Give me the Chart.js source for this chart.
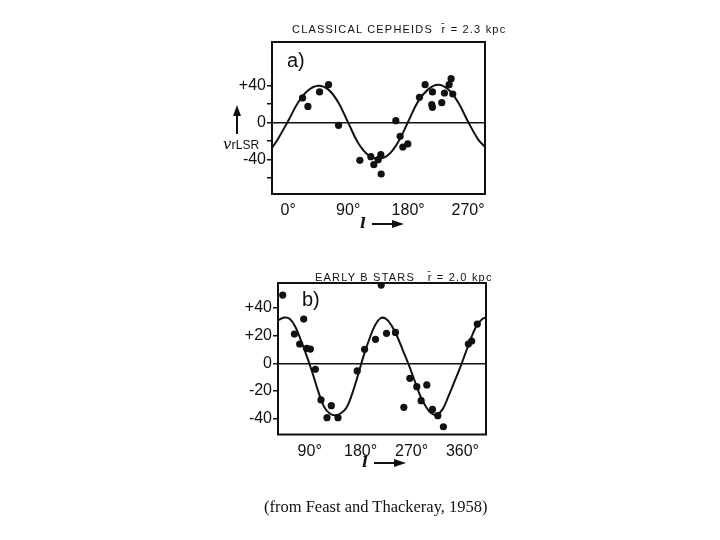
<!DOCTYPE html>
<html lang="en">
<head>
<meta charset="UTF-8">
<script src="https://cdn.jsdelivr.net/npm/chart.js"></script>
<title>Radial velocities vs galactic longitude</title>
<style>
    body { margin: 0; background: #fff; width: 720px; height: 540px; position: relative; overflow: hidden; font-family: "Liberation Sans", sans-serif; color: #111; }
    canvas { position: absolute; left: 0; }
    #chartA { top: 0; }
    #chartB { top: 260px; }
    .txt { position: absolute; white-space: nowrap; line-height: 1; }
    .title { font-size: 11px; letter-spacing: 1.2px; }
    .panel { font-size: 20px; }
    .ell { font-family: "DejaVu Serif", serif; font-style: italic; font-weight: bold; font-size: 15px; }
    .hline { position: absolute; height: 2px; background: #111; }
    .vline { position: absolute; width: 2px; background: #111; }
    .tri-r { position: absolute; width: 0; height: 0; border-top: 4px solid transparent; border-bottom: 4px solid transparent; border-left: 12px solid #111; }
    .tri-u { position: absolute; width: 0; height: 0; border-left: 4px solid transparent; border-right: 4px solid transparent; border-bottom: 11px solid #111; }
    .foot { font-family: "Liberation Serif", serif; font-size: 16.5px; }
</style>
</head>
<body>
    <canvas id="chartA" width="720" height="260"></canvas>
    <canvas id="chartB" width="720" height="280"></canvas>

    <!-- panel a texts -->
    <div class="txt title" style="left:292px; top:24px;">CLASSICAL CEPHEIDS&nbsp; r&#772; = 2.3 kpc</div>
    <div class="txt panel" style="left:287px; top:50px;">a)</div>
    <div class="vline" style="left:236px; top:114px; height:20px;"></div>
    <div class="tri-u" style="left:233px; top:105px;"></div>
    <div class="txt" style="left:223px; top:136px; font-size:15px;"><span style="font-family:'DejaVu Serif',serif; font-style:italic;">v</span><span style="font-size:13px;">r</span><span style="font-size:12px;">LSR</span></div>
    <div class="txt ell" style="left:360px; top:216px;">l</div>
    <div class="hline" style="left:372px; top:223px; width:22px;"></div>
    <div class="tri-r" style="left:392px; top:220px;"></div>

    <!-- panel b texts -->
    <div class="txt title" style="left:315px; top:272px;">EARLY B STARS&nbsp;&nbsp; r&#772; = 2.0 kpc</div>
    <div class="txt panel" style="left:302px; top:289px;">b)</div>
    <div class="txt ell" style="left:362px; top:455px;">l</div>
    <div class="hline" style="left:374px; top:462px; width:22px;"></div>
    <div class="tri-r" style="left:394px; top:459px;"></div>

    <div class="txt foot" style="left:264px; top:499px;">(from Feast and Thackeray, 1958)</div>

    <script>
        // a) classical cepheids: observed points
        const cephL = [21.5, 29.5, 47, 60.5, 75.5, 107.5, 124, 128.5, 135, 139, 139.5, 161.5, 168, 172, 179.5, 197, 205.5, 216.5, 215.5, 216.5, 230.5, 234.5, 241.5, 244.5, 247];
        const cephV = [26.7, 17.6, 33.2, 41.1, -2.9, -40.7, -36.8, -45.4, -40, -34.6, -55.5, 2.2, -14.8, -26.3, -23, 27.4, 41.1, 33.2, 19.5, 16.6, 21.6, 32.1, 41.1, 47.6, 31];
        // a) drawn curve
        const cephCurveL = [-24, -15, 0, 15, 30, 45, 60, 75, 90, 105, 120, 135, 150, 165, 180, 195, 210, 225, 240, 255, 270, 285, 295];
        const cephCurveV = [-27, -17, 2, 22, 35, 40, 36, 22, 0, -22, -35, -39, -35, -21, 1, 23, 36, 41, 36, 22, 1, -18, -26];
        const cephXTicks = [0, 90, 180, 270];
        const cephYTicks = [-60, -40, -20, 0, 20, 40];
        const cephYLabels = {'40': '+40', '0': '0', '-40': '-40'};

        // b) early B stars
        const bstarL = [42.3, 79.4, 63, 72.3, 84.7, 91.2, 100, 110, 120.6, 128.2, 140, 174, 187, 206.3, 216.4, 225.8, 241.6, 256.4, 267, 279.3, 297, 287, 307, 316.4, 326.3, 370.4, 376.3, 386.2];
        const bstarV = [49.2, 31.9, 21.1, 13.9, 10.8, 10.3, -4.3, -26.4, -39.2, -30.5, -39.2, -5.5, 10.1, 17.3, 56.4, 21.6, 22.3, -31.7, -10.8, -16.8, -15.6, -26.9, -33.2, -37.7, -45.7, 13.9, 16.1, 28.3];
        const bstarCurveL = [34, 45, 55, 65, 75, 85, 95, 105, 115, 125, 135, 145, 155, 165, 175, 185, 195, 205, 215, 225, 235, 245, 255, 265, 275, 285, 295, 305, 315, 325, 335, 345, 355, 365, 375, 385, 395, 402];
        const bstarCurveV = [31, 33, 32, 26, 16, 5, -7, -20, -31, -36, -37.5, -36, -32, -22, -9, 5, 17, 27, 32.5, 32, 27, 19, 9, -1, -12, -23, -31, -36, -37, -33, -24, -14, -4, 7, 18, 27, 32, 33];
        const bstarXTicks = [90, 180, 270, 360];
        const bstarYTicks = [-40, -20, 0, 20, 40];
        const bstarYLabels = {'40': '+40', '20': '+20', '0': '0', '-20': '-20', '-40': '-40'};

        const ink = '#111';
        const zip = (xs, ys) => xs.map((x, i) => ({x: x, y: ys[i]}));

        // frame round the plot area
        const framePlugin = {
            id: 'frame',
            afterDatasetsDraw(chart) {
                const a = chart.chartArea;
                const c = chart.ctx;
                c.save();
                c.strokeStyle = ink;
                c.lineWidth = 2;
                c.strokeRect(a.left, a.top, a.right - a.left, a.bottom - a.top);
                c.restore();
            }
        };

        function makeChart(id, o) {
            return new Chart(document.getElementById(id), {
                type: 'scatter',
                data: {
                    datasets: [{
                        data: zip(o.curveL, o.curveV),
                        showLine: true,
                        pointRadius: 0,
                        borderColor: ink,
                        borderWidth: 2,
                        tension: 0.4
                    }, {
                        data: zip(o.ptL, o.ptV),
                        pointRadius: 3.6,
                        pointBackgroundColor: ink,
                        pointBorderWidth: 0
                    }]
                },
                options: {
                    responsive: false,
                    animation: false,
                    layout: { padding: o.pad },
                    plugins: { legend: { display: false }, tooltip: { enabled: false } },
                    scales: {
                        x: {
                            type: 'linear', min: o.xMin, max: o.xMax,
                            afterBuildTicks: s => { s.ticks = o.xTicks.map(v => ({value: v})); },
                            afterFit: s => { s.height = o.xH; },
                            border: { display: false },
                            grid: { display: false, drawTicks: false },
                            ticks: { color: ink, padding: 7, maxRotation: 0, font: { family: 'Liberation Sans', size: 16 }, callback: v => v + '°' }
                        },
                        y: {
                            min: o.yMin, max: o.yMax,
                            afterBuildTicks: s => { s.ticks = o.yTicks.map(v => ({value: v})); },
                            afterFit: s => { s.width = o.yW; },
                            border: { display: false },
                            grid: {
                                color: c => (c.tick && c.tick.value === 0) ? ink : 'rgba(0,0,0,0)',
                                lineWidth: 1.5,
                                tickColor: ink,
                                tickWidth: 1.5,
                                tickLength: 5
                            },
                            ticks: { color: ink, padding: 1, font: { family: 'Liberation Sans', size: 16 }, callback: v => o.yLabels[String(v)] || '' }
                        }
                    }
                },
                plugins: [framePlugin]
            });
        }

        makeChart('chartA', {
            ptL: cephL, ptV: cephV, curveL: cephCurveL, curveV: cephCurveV,
            xMin: -24.4, xMax: 295.4, yMin: -77.1, yMax: 87.2,
            xTicks: cephXTicks, yTicks: cephYTicks, yLabels: cephYLabels,
            pad: { left: 0, right: 235, top: 42, bottom: 0 }, yW: 272, xH: 66
        });

        makeChart('chartB', {
            ptL: bstarL, ptV: bstarV, curveL: bstarCurveL, curveV: bstarCurveV,
            xMin: 34, xMax: 401.6, yMin: -51.3, yMax: 57.9,
            xTicks: bstarXTicks, yTicks: bstarYTicks, yLabels: bstarYLabels,
            pad: { left: 0, right: 234, top: 23, bottom: 0 }, yW: 278, xH: 105.5
        });
    </script>
</body>
</html>
